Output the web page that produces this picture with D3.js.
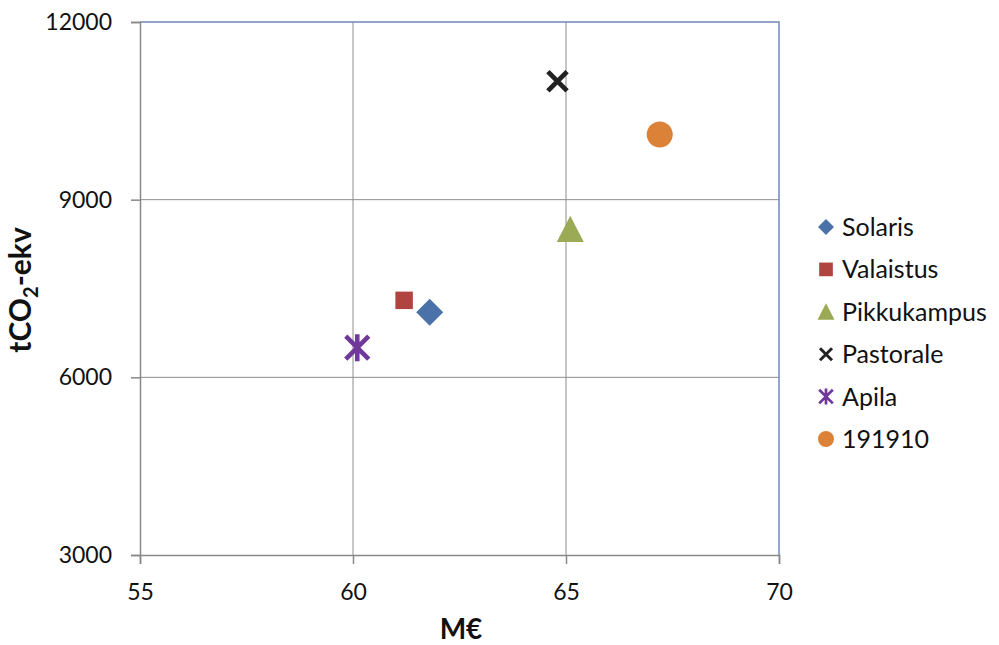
<!DOCTYPE html>
<html><head><meta charset="utf-8">
<script src="https://cdn.jsdelivr.net/npm/d3@7"></script>
<style>body{margin:0;background:#fff}svg{display:block}text{font-family:Lato,"Open Sans",sans-serif}</style>
</head><body><svg id="c" width="999" height="645"></svg>
<script>
const seriesNames = ["Solaris","Valaistus","Pikkukampus","Pastorale","Apila","191910"];
const xValues = [61.8, 61.2, 65.1, 64.8, 60.1, 67.2];
const yValues = [7100, 7300, 8500, 11000, 6500, 10100];
const colors = ["#4A72A8","#B04440","#9BAA55","#222222","#70389A","#DC8238"];
const shapes = ["diamond","square","triangle","x","star","circle"];
const xTicks = [55,60,65,70];
const yTicks = [3000,6000,9000,12000];

const svg = d3.select("#c");
const L=140,R=779,T=22,B=555;
const x = d3.scaleLinear().domain([55,70]).range([L,R]);
const y = d3.scaleLinear().domain([3000,12000]).range([B,T]);

svg.append("g").selectAll("line").data(xTicks.slice(1,-1)).join("line")
 .attr("x1",d=>x(d)).attr("x2",d=>x(d)).attr("y1",T).attr("y2",B).attr("stroke","#8c8c8c").attr("stroke-width",1);
svg.append("g").selectAll("line").data(yTicks.slice(1,-1)).join("line")
 .attr("y1",d=>y(d)).attr("y2",d=>y(d)).attr("x1",L).attr("x2",R).attr("stroke","#8c8c8c").attr("stroke-width",1);
svg.append("path").attr("d",`M${L},${T}H${R}V${B}`).attr("fill","none").attr("stroke","#7388b8").attr("stroke-width",1.5);

const fs = "23px";
const xAxis = svg.append("g").attr("transform",`translate(0,${B})`)
 .call(d3.axisBottom(x).tickValues(xTicks).tickSize(9).tickPadding(20).tickFormat(d3.format("d")));
const yAxis = svg.append("g").attr("transform",`translate(${L},0)`)
 .call(d3.axisLeft(y).tickValues(yTicks).tickSize(9).tickPadding(19).tickFormat(d3.format("d")));
[xAxis,yAxis].forEach(a=>{
 a.select(".domain").attr("stroke","#888").attr("stroke-width",1.5);
 a.selectAll(".tick line").attr("stroke","#888").attr("stroke-width",1.5);
 a.selectAll("text").attr("fill","#111").style("font-size",fs).style("font-family","Lato,'Open Sans',sans-serif");
});

function drawMarker(g, shape, color, s){
 const h=s/2;
 if(shape==="diamond") g.append("path").attr("d",`M0,${-h}L${h},0L0,${h}L${-h},0Z`).attr("fill",color);
 else if(shape==="square"){const q=s*0.38; g.append("rect").attr("x",-q).attr("y",-q).attr("width",2*q).attr("height",2*q).attr("fill",color);}
 else if(shape==="triangle") g.append("path").attr("d",`M0,${-h}L${h},${h*0.95}L${-h},${h*0.95}Z`).attr("fill",color);
 else if(shape==="circle") g.append("circle").attr("r",h).attr("fill",color);
 else if(shape==="x"){const q=h*0.8; g.append("path").attr("d",`M${-q},${-q}L${q},${q}M${q},${-q}L${-q},${q}`).attr("stroke",color).attr("stroke-width",s*0.2);}
 else if(shape==="star"){const q=h*0.85; g.append("path").attr("d",`M${-q},${-q}L${q},${q}M${q},${-q}L${-q},${q}M0,${-h}L0,${h}`).attr("stroke",color).attr("stroke-width",s*0.17);}
}
const ms=[27,23,27,24,27,26];
seriesNames.forEach((n,i)=>{
 const g=svg.append("g").attr("transform",`translate(${x(xValues[i])},${y(yValues[i])})`);
 drawMarker(g,shapes[i],colors[i],ms[i]);
});

const lg=svg.append("g");
seriesNames.forEach((n,i)=>{
 const cy=227+i*42.4;
 const g=lg.append("g").attr("transform",`translate(826,${cy})`);
 drawMarker(g,shapes[i],colors[i],[16,18,17,15,16,16][i]);
 lg.append("text").attr("x",842).attr("y",cy).attr("dy","0.36em").style("font-size","25px").attr("fill","#111").text(n);
});

svg.append("text").attr("x",461).attr("y",639).attr("text-anchor","middle").style("font-size","28px").style("font-weight","bold").attr("fill","#111").text("M€");
const yt=svg.append("text").attr("transform","translate(31,290) rotate(-90)").attr("text-anchor","middle").style("font-size","30px").style("font-weight","bold").attr("fill","#111");
yt.append("tspan").text("tCO");
yt.append("tspan").attr("dy",7).style("font-size","20px").text("2");
yt.append("tspan").attr("dy",-7).text("-ekv");
</script></body></html>
